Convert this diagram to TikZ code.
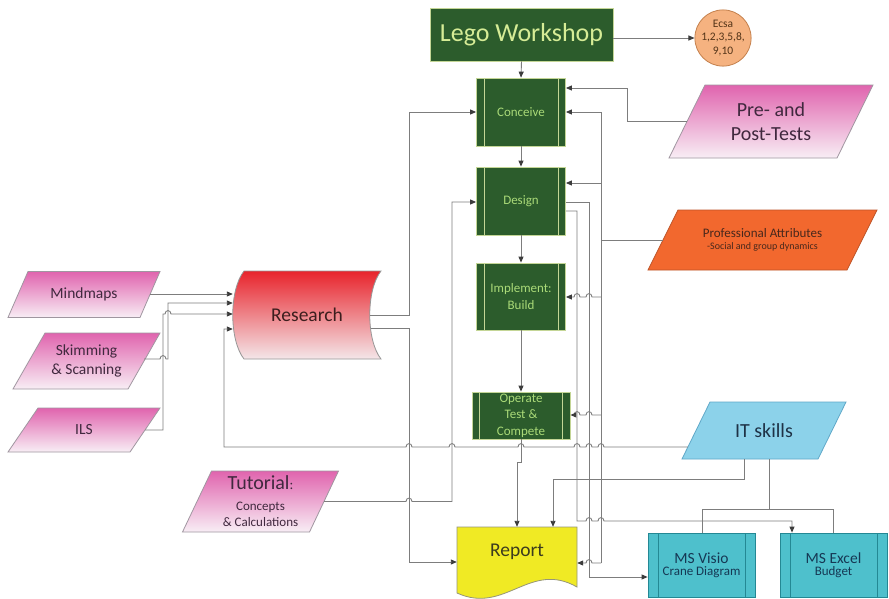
\documentclass[tikz,border=0pt]{standalone}
\usepackage{fontspec}
\setmainfont{Carlito}
\usetikzlibrary{arrows.meta,calc}
\definecolor{gdark}{RGB}{44,92,44}
\definecolor{gborder}{RGB}{196,214,150}
\definecolor{gtext}{RGB}{170,218,120}
\definecolor{legotext}{RGB}{214,236,150}
\definecolor{lgray}{RGB}{125,125,125}
\definecolor{tipcol}{RGB}{60,60,60}
\definecolor{pinktop}{RGB}{224,100,174}
\definecolor{pinkbot}{RGB}{248,238,245}
\definecolor{pinkline}{RGB}{160,150,160}
\definecolor{pinktext}{RGB}{64,40,62}
\definecolor{redtop}{RGB}{232,36,44}
\definecolor{redbot}{RGB}{244,230,233}
\definecolor{restext}{RGB}{60,30,30}
\definecolor{orfill}{RGB}{242,104,46}
\definecolor{orline}{RGB}{190,84,40}
\definecolor{ortext}{RGB}{72,40,28}
\definecolor{ecfill}{RGB}{245,178,128}
\definecolor{ecline}{RGB}{196,128,76}
\definecolor{ectext}{RGB}{84,52,24}
\definecolor{itfill}{RGB}{140,210,234}
\definecolor{itline}{RGB}{96,168,200}
\definecolor{ittext}{RGB}{30,50,70}
\definecolor{tlfill}{RGB}{78,192,204}
\definecolor{tlline}{RGB}{36,136,148}
\definecolor{tltext}{RGB}{22,56,84}
\definecolor{yfill}{RGB}{240,234,36}
\definecolor{yline}{RGB}{150,150,120}
\definecolor{ytext}{RGB}{60,60,30}

\newcommand\jmpl[2]{-- ({#1+3},{#2}) .. controls ({#1+3},{#2-4.5}) and ({#1-3},{#2-4.5}) .. ({#1-3},{#2})}
\newcommand\jmpr[2]{-- ({#1-3},{#2}) .. controls ({#1-3},{#2-4.5}) and ({#1+3},{#2-4.5}) .. ({#1+3},{#2})}
\newcommand\parash[9]{%
  \draw[#7] ({#2-#4/2+#6/2},{#3-#5/2}) -- ({#2+#4/2+#6/2},{#3-#5/2}) -- ({#2+#4/2-#6/2},{#3+#5/2}) -- ({#2-#4/2-#6/2},{#3+#5/2}) -- cycle;
  \node[ptext, minimum width=#4pt, minimum height=#5pt, #8] (#1) at (#2,#3) {#9};}

\tikzset{
  conn/.style={draw=lgray, line width=0.9pt},
  arr/.style={conn, -{Triangle[length=6pt,width=5pt,color=tipcol]}},
  ptext/.style={inner sep=0pt, align=center},
  gbox/.style={draw=gborder, line width=0.8pt, fill=gdark, text=gtext, inner sep=0pt, align=center,
    font=\fontsize{13}{16.5}\selectfont, minimum width=89pt, minimum height=68pt,
    path picture={\draw[gborder, line width=0.8pt]
      ([xshift=7.5pt]path picture bounding box.north west) -- ([xshift=7.5pt]path picture bounding box.south west)
      ([xshift=-7.5pt]path picture bounding box.north east) -- ([xshift=-7.5pt]path picture bounding box.south east);}},
  tbox/.style={draw=tlline, line width=0.8pt, fill=tlfill, text=tltext, inner sep=0pt, align=center,
    minimum width=107pt, minimum height=64pt,
    path picture={\draw[tlline, line width=0.8pt]
      ([xshift=10pt]path picture bounding box.north west) -- ([xshift=10pt]path picture bounding box.south west)
      ([xshift=-10pt]path picture bounding box.north east) -- ([xshift=-10pt]path picture bounding box.south east);}},
  pinkp/.style={draw=pinkline, line width=0.8pt, top color=pinktop, bottom color=pinkbot},
  orp/.style={draw=orline, line width=0.8pt, fill=orfill},
  itp/.style={draw=itline, line width=0.8pt, fill=itfill},
}

\begin{document}
\begin{tikzpicture}[x=1pt,y=-1pt]
\fill[white] (0,0) rectangle (889,598);
\useasboundingbox (0,0) rectangle (889,598);

% ---------- nodes ----------
\node[draw=gborder, line width=0.8pt, fill=gdark, text=legotext, minimum width=183pt, minimum height=53pt,
  inner sep=0pt, font=\fontsize{26}{30}\selectfont] (lego) at (521.5,34.5) {Lego Workshop};
\node[circle, draw=ecline, line width=0.8pt, fill=ecfill, minimum size=50pt, inner sep=0pt, align=center,
  text=ectext, font=\fontsize{11.5}{13.5}\selectfont] (ecsa) at (723,38) {Ecsa\\1,2,3,5,8,\\9,10};

\node[gbox] (conceive) at (521,112) {Conceive};
\node[gbox] (design) at (521,201) {Design};
\node[gbox, minimum height=67pt] (implement) at (521,296.5) {Implement:\\Build};
\node[gbox, minimum width=98pt, minimum height=47pt] (operate) at (521,415.5) {Operate\\Test \&\\Compete};

\parash{pre}{771}{121.5}{168}{73}{36}{pinkp}{text=pinktext,font=\fontsize{20}{24}\selectfont}{Pre- and\\Post-Tests}
\parash{prof}{762.5}{240}{199}{60}{30}{orp}{text=ortext}{\fontsize{13}{16}\selectfont Professional Attributes\\\fontsize{10}{12}\selectfont -Social and group dynamics}
\parash{mindmaps}{84}{294.5}{132}{46}{20}{pinkp}{text=pinktext,font=\fontsize{15.5}{18}\selectfont}{Mindmaps}
\parash{skimming}{86.5}{361}{115}{56}{32}{pinkp}{text=pinktext,font=\fontsize{15.5}{19}\selectfont}{Skimming\\\& Scanning}
\parash{ils}{84}{430}{122}{44}{30}{pinkp}{text=pinktext,font=\fontsize{15.5}{18}\selectfont}{ILS}
\parash{tutorial}{260.5}{501.5}{127}{61}{29}{pinkp}{text=pinktext,font=\fontsize{13}{16}\selectfont}{{\fontsize{20}{22}\selectfont Tutorial{\fontsize{14}{14}\selectfont:}}\\[5pt]Concepts\\\& Calculations}
\parash{itskills}{764}{430.5}{136}{57}{28}{itp}{text=ittext,font=\fontsize{20}{24}\selectfont}{IT skills}

\draw[draw=lgray!80, line width=0.8pt, top color=redtop, bottom color=redbot]
  (244,271) -- (381,271) .. controls (366,290) and (366,340) .. (381,359)
  -- (244,359) .. controls (229,340) and (229,290) .. (244,271) -- cycle;
\node[ptext, minimum width=148pt, minimum height=88pt, text=restext, font=\fontsize{19.5}{22}\selectfont] (research) at (307,315) {Research};

\draw[draw=yline, line width=0.8pt, fill=yfill]
  (457,527) -- (577,527) -- (577,587) .. controls (530,560) and (505,615) .. (457,593) -- cycle;
\node[ptext, minimum width=120pt, minimum height=50pt, text=ytext, font=\fontsize{19.5}{22}\selectfont] (report) at (517,552) {Report};

\node[tbox] (visio) at (701.5,565) {\fontsize{15.5}{18}\selectfont MS Visio\\\fontsize{13}{16}\selectfont Crane Diagram};
\node[tbox] (excel) at (833.5,565) {\fontsize{15.5}{18}\selectfont MS Excel\\\fontsize{13}{16}\selectfont Budget};

% ---------- connectors ----------
\draw[arr] (lego.south) -- (conceive.north);
\draw[arr] (lego.east |- ecsa.west) -- (ecsa.west);
\draw[arr] (conceive) -- (design);
\draw[arr] (design) -- (implement);
\draw[arr] (implement) -- (operate);

% pre/post tests
\draw[arr] (pre.west) -- (627,121.5) |- (conceive.east |- 0,88);

% professional attributes bus
\draw[conn] (prof.west) -- (601,240);
\draw[arr] (601,563) -- (601,112) -- (conceive.east |- 0,112);
\draw[arr] (601,183) -- (design.east |- 0,183);
\draw[arr] (601,297) \jmpl{589}{297} \jmpl{577}{297} -- (implement.east |- 0,297);
\draw[arr] (601,415) \jmpl{589}{415} \jmpl{577}{415} -- (operate.east |- 0,415);
\draw[arr] (601,563) \jmpl{589}{563} -- (report.east |- 0,563);

% research outputs
\draw[arr] ([xshift=-11pt]research.east) -- (409,315) |- (conceive.west);
\draw[arr] (371,328) -- (409,328) -- (409,562) -- (report.west |- 0,562);

% tutorial -> design
\draw[arr] (tutorial.east) \jmpr{409}{501.5} -- (452,501.5) -- (452,202) -- (design.west |- 0,202);

% IT skills -> research
\draw[arr] ($(itskills.west)+(-8,16.5)$) \jmpl{601}{447} \jmpl{589}{447} \jmpl{577}{447} \jmpl{521}{447}
  \jmpl{452}{447} \jmpl{409}{447} -- (224,447) -- (224,329) -- (research.west |- 0,329);
% IT skills -> report
\draw[arr] (itskills.south -| 744,0) -- (744,479) -- (553,479) -- (report.north -| 553,0);
% IT skills -> visio / excel
\draw[conn] (itskills.south -| 769,0) -- (769,509);
\draw[conn] (visio.north -| 702,0) |- (833,509) -- (excel.north -| 833,0);

% design -> visio / excel
\draw[arr] (design.east |- 0,202) -- (589,202) |- (visio.west |- 0,577);
\draw[arr] (design.east |- 0,211) -- (577,211) -- (577,521) \jmpr{589}{521} \jmpr{601}{521} -- (792,521) -- (excel.north -| 792,0);

% operate -> report
\draw[arr] (operate.south) -- (521,462) -- (517,462) -- (report.north -| 517,0);

% left inputs
\draw[arr] (mindmaps.east |- 0,294) -- (research.west |- 0,294);
\draw[arr] (skimming.east |- 0,359) \jmpr{163}{359} -- (168,359) -- (168,303) -- (research.west |- 0,303);
\draw[arr] (ils.east) -- (163,430) -- (163,314) \jmpr{168}{314} -- (research.west |- 0,314);
\end{tikzpicture}
\end{document}
